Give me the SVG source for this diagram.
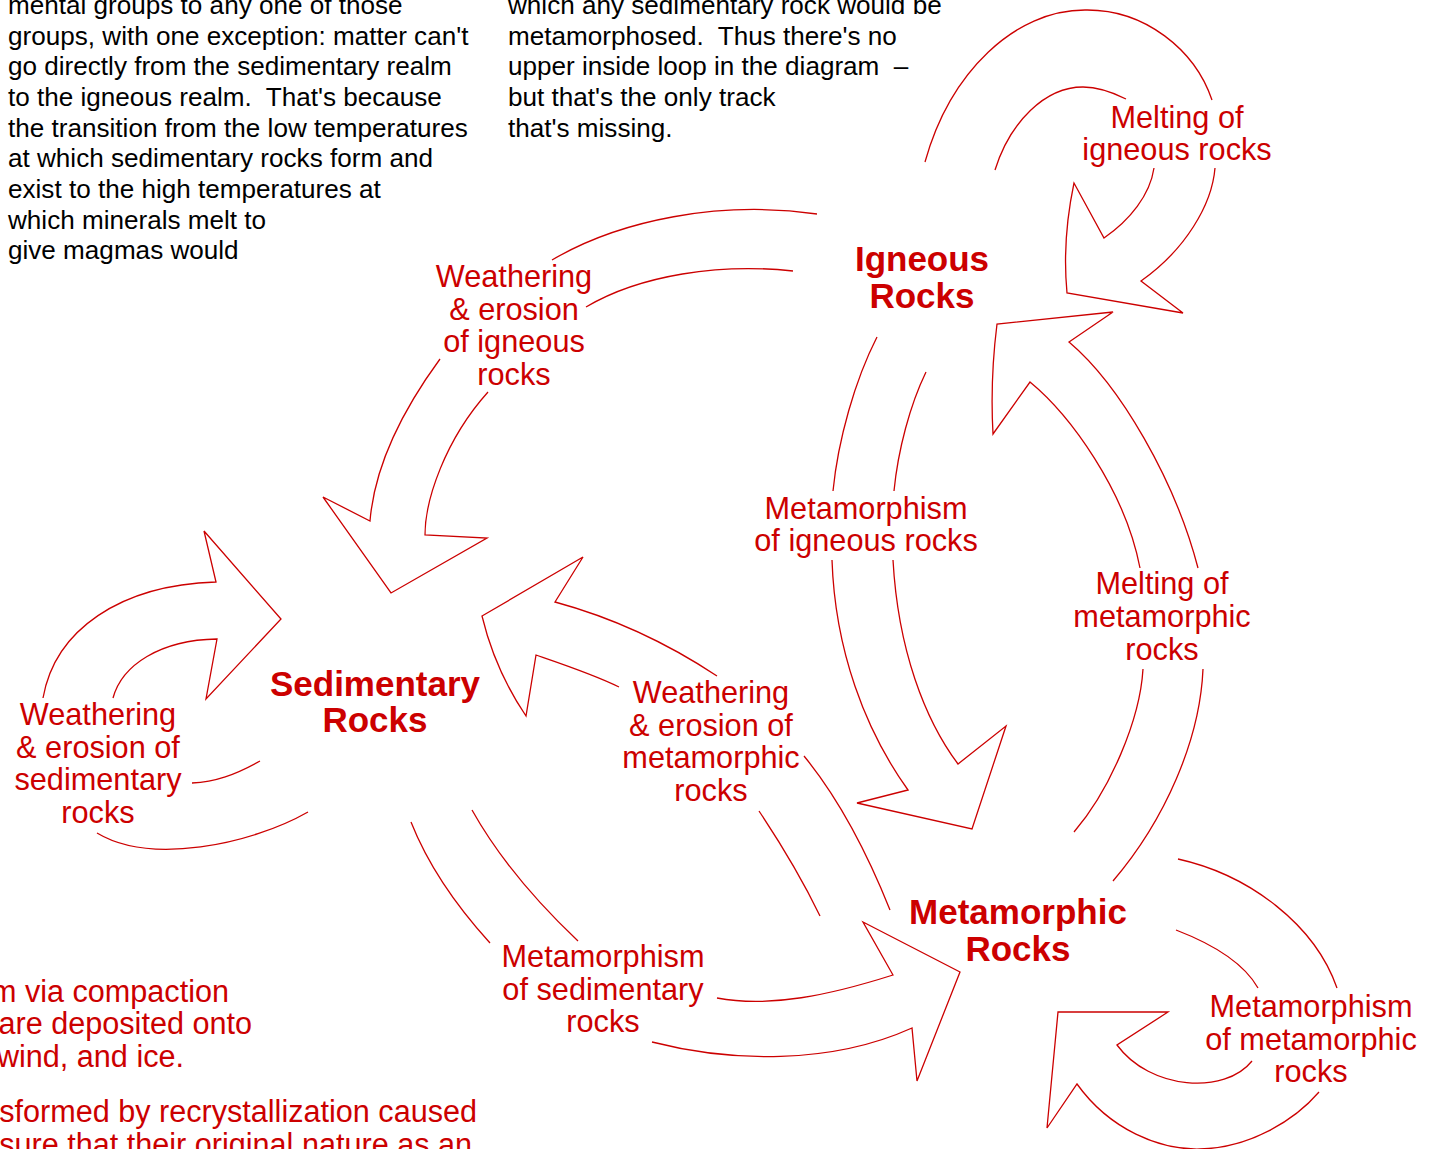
<svg xmlns="http://www.w3.org/2000/svg" width="1437" height="1149" viewBox="0 0 1437 1149">
<style>
.a{fill:none;stroke:#CC0000;stroke-width:1.3;stroke-linejoin:miter}
.t{font-family:"Liberation Sans",Arial,sans-serif;font-size:35px;font-weight:bold;fill:#CC0000;text-anchor:middle}
.l{font-family:"Liberation Sans",Arial,sans-serif;font-size:30.7px;fill:#CC0000;text-anchor:middle}
.n{font-family:"Liberation Sans",Arial,sans-serif;font-size:26.1px;fill:#000000;white-space:pre}
.r{font-family:"Liberation Sans",Arial,sans-serif;font-size:30.6px;fill:#CC0000;text-anchor:end}
</style>
<rect width="1437" height="1149" fill="#ffffff"/>
<g id="notes" xml:space="preserve">
<text class="n" x="8" y="14">mental groups to any one of those</text>
<text class="n" x="8" y="44.5">groups, with one exception: matter can't</text>
<text class="n" x="8" y="75">go directly from the sedimentary realm</text>
<text class="n" x="8" y="106">to the igneous realm.  That's because</text>
<text class="n" x="8" y="136.5">the transition from the low temperatures</text>
<text class="n" x="8" y="167">at which sedimentary rocks form and</text>
<text class="n" x="8" y="198">exist to the high temperatures at</text>
<text class="n" x="8" y="228.5">which minerals melt to</text>
<text class="n" x="8" y="259">give magmas would</text>
<text class="n" x="508" y="14">which any sedimentary rock would be</text>
<text class="n" x="508" y="44.5">metamorphosed.  Thus there's no</text>
<text class="n" x="508" y="75">upper inside loop in the diagram  –</text>
<text class="n" x="508" y="106">but that's the only track</text>
<text class="n" x="508" y="136.5">that's missing.</text>
<text class="r" x="229" y="1002">m via compaction</text>
<text class="r" x="252" y="1034">are deposited onto</text>
<text class="r" x="184" y="1067">wind, and ice.</text>
<text class="r" x="477" y="1122">sformed by recrystallization caused</text>
<text class="r" x="472" y="1155">sure that their original nature as an</text>
</g>
<g id="connectors">
<g id="melt-igneous">
<path class="a" d="M925,162 C950,72 1015,10 1085,10 C1145,9 1195,50 1212,100"/>
<path class="a" d="M1215,168 C1212,205 1185,250 1141,281 L1183,313 L1067,293 Q1062,240 1074,183 L1104,238 C1130,220 1150,195 1154,168"/>
<path class="a" d="M1126,99 C1110,91 1097,87 1083,87 C1045,87 1010,122 995,170"/>
</g>
<g id="weather-igneous">
<path class="a" d="M817,214 C720,200 620,220 552,260"/>
<path class="a" d="M793,271 C720,263 640,275 586,307"/>
<path class="a" d="M440,359 C410,400 375,460 370,521 L323,497 L391,593 L487,538 L425,535 C425,500 445,440 488,392"/>
</g>
<g id="meta-igneous">
<path class="a" d="M877,337 C855,380 838,440 833,491"/>
<path class="a" d="M926,372 C910,405 898,450 894,491"/>
<path class="a" d="M832,560 C835,650 865,730 908,790 L857,803 L972,829 L1006,726 L958,764 C925,720 898,650 893,560"/>
</g>
<g id="melt-metamorphic">
<path class="a" d="M1113,881 C1165,820 1200,740 1203,669"/>
<path class="a" d="M1074,832 C1110,790 1140,720 1143,669"/>
<path class="a" d="M1198,568 C1175,480 1120,385 1069,342 L1113,312 L997,324 Q990,380 993,434 L1030,382 C1070,415 1125,490 1140,568"/>
</g>
<g id="weather-metamorphic">
<path class="a" d="M717,676 Q640,625 555,602 L583,557 L482,616 Q495,670 526,716 L536,655 C565,665 595,675 619,687"/>
<path class="a" d="M759,811 C785,850 805,885 820,916"/>
<path class="a" d="M804,756 C840,800 870,860 890,910"/>
</g>
<g id="meta-sedimentary">
<path class="a" d="M411,822 C430,870 460,910 490,943"/>
<path class="a" d="M472,810 C500,860 540,905 578,941"/>
<path class="a" d="M717,998 C770,1008 830,995 893,975 L863,922 L960,972 L917,1081 L912,1028 C830,1065 730,1062 652,1042"/>
</g>
<g id="weather-sedimentary">
<path class="a" d="M308,812 C250,845 150,865 97,833"/>
<path class="a" d="M260,761 C235,775 215,782 192,783"/>
<path class="a" d="M43,698 C55,630 120,585 216,582 L204,531 L281,619 L206,699 L217,639 C160,640 122,665 113,698"/>
</g>
<g id="meta-metamorphic">
<path class="a" d="M1178,859 C1250,875 1315,925 1337,988"/>
<path class="a" d="M1176,930 C1215,945 1245,965 1258,988"/>
<path class="a" d="M1252,1061 C1225,1095 1150,1090 1117,1045 L1168,1012 L1058,1012 L1047,1128 L1077,1084 C1110,1130 1160,1150 1200,1149 C1250,1148 1295,1120 1319,1092"/>
</g>
</g>
<g id="labels">
<text class="l" x="1177" y="128">Melting of</text>
<text class="l" x="1177" y="160">igneous rocks</text>
<text class="l" x="514" y="287">Weathering</text>
<text class="l" x="514" y="320">&amp; erosion</text>
<text class="l" x="514" y="352">of igneous</text>
<text class="l" x="514" y="385">rocks</text>
<text class="l" x="866" y="519">Metamorphism</text>
<text class="l" x="866" y="551">of igneous rocks</text>
<text class="l" x="1162" y="594">Melting of</text>
<text class="l" x="1162" y="627">metamorphic</text>
<text class="l" x="1162" y="660">rocks</text>
<text class="l" x="711" y="703">Weathering</text>
<text class="l" x="711" y="736">&amp; erosion of</text>
<text class="l" x="711" y="768">metamorphic</text>
<text class="l" x="711" y="801">rocks</text>
<text class="l" x="98" y="725">Weathering</text>
<text class="l" x="98" y="758">&amp; erosion of</text>
<text class="l" x="98" y="790">sedimentary</text>
<text class="l" x="98" y="823">rocks</text>
<text class="l" x="603" y="967">Metamorphism</text>
<text class="l" x="603" y="1000">of sedimentary</text>
<text class="l" x="603" y="1032">rocks</text>
<text class="l" x="1311" y="1017">Metamorphism</text>
<text class="l" x="1311" y="1050">of metamorphic</text>
<text class="l" x="1311" y="1082">rocks</text>
</g>
<g id="igneous">
<text class="t" x="922" y="271">Igneous</text>
<text class="t" x="922" y="308">Rocks</text>
</g>
<g id="sedimentary">
<text class="t" x="375" y="696">Sedimentary</text>
<text class="t" x="375" y="732">Rocks</text>
</g>
<g id="metamorphic">
<text class="t" x="1018" y="924">Metamorphic</text>
<text class="t" x="1018" y="961">Rocks</text>
</g>
</svg>
